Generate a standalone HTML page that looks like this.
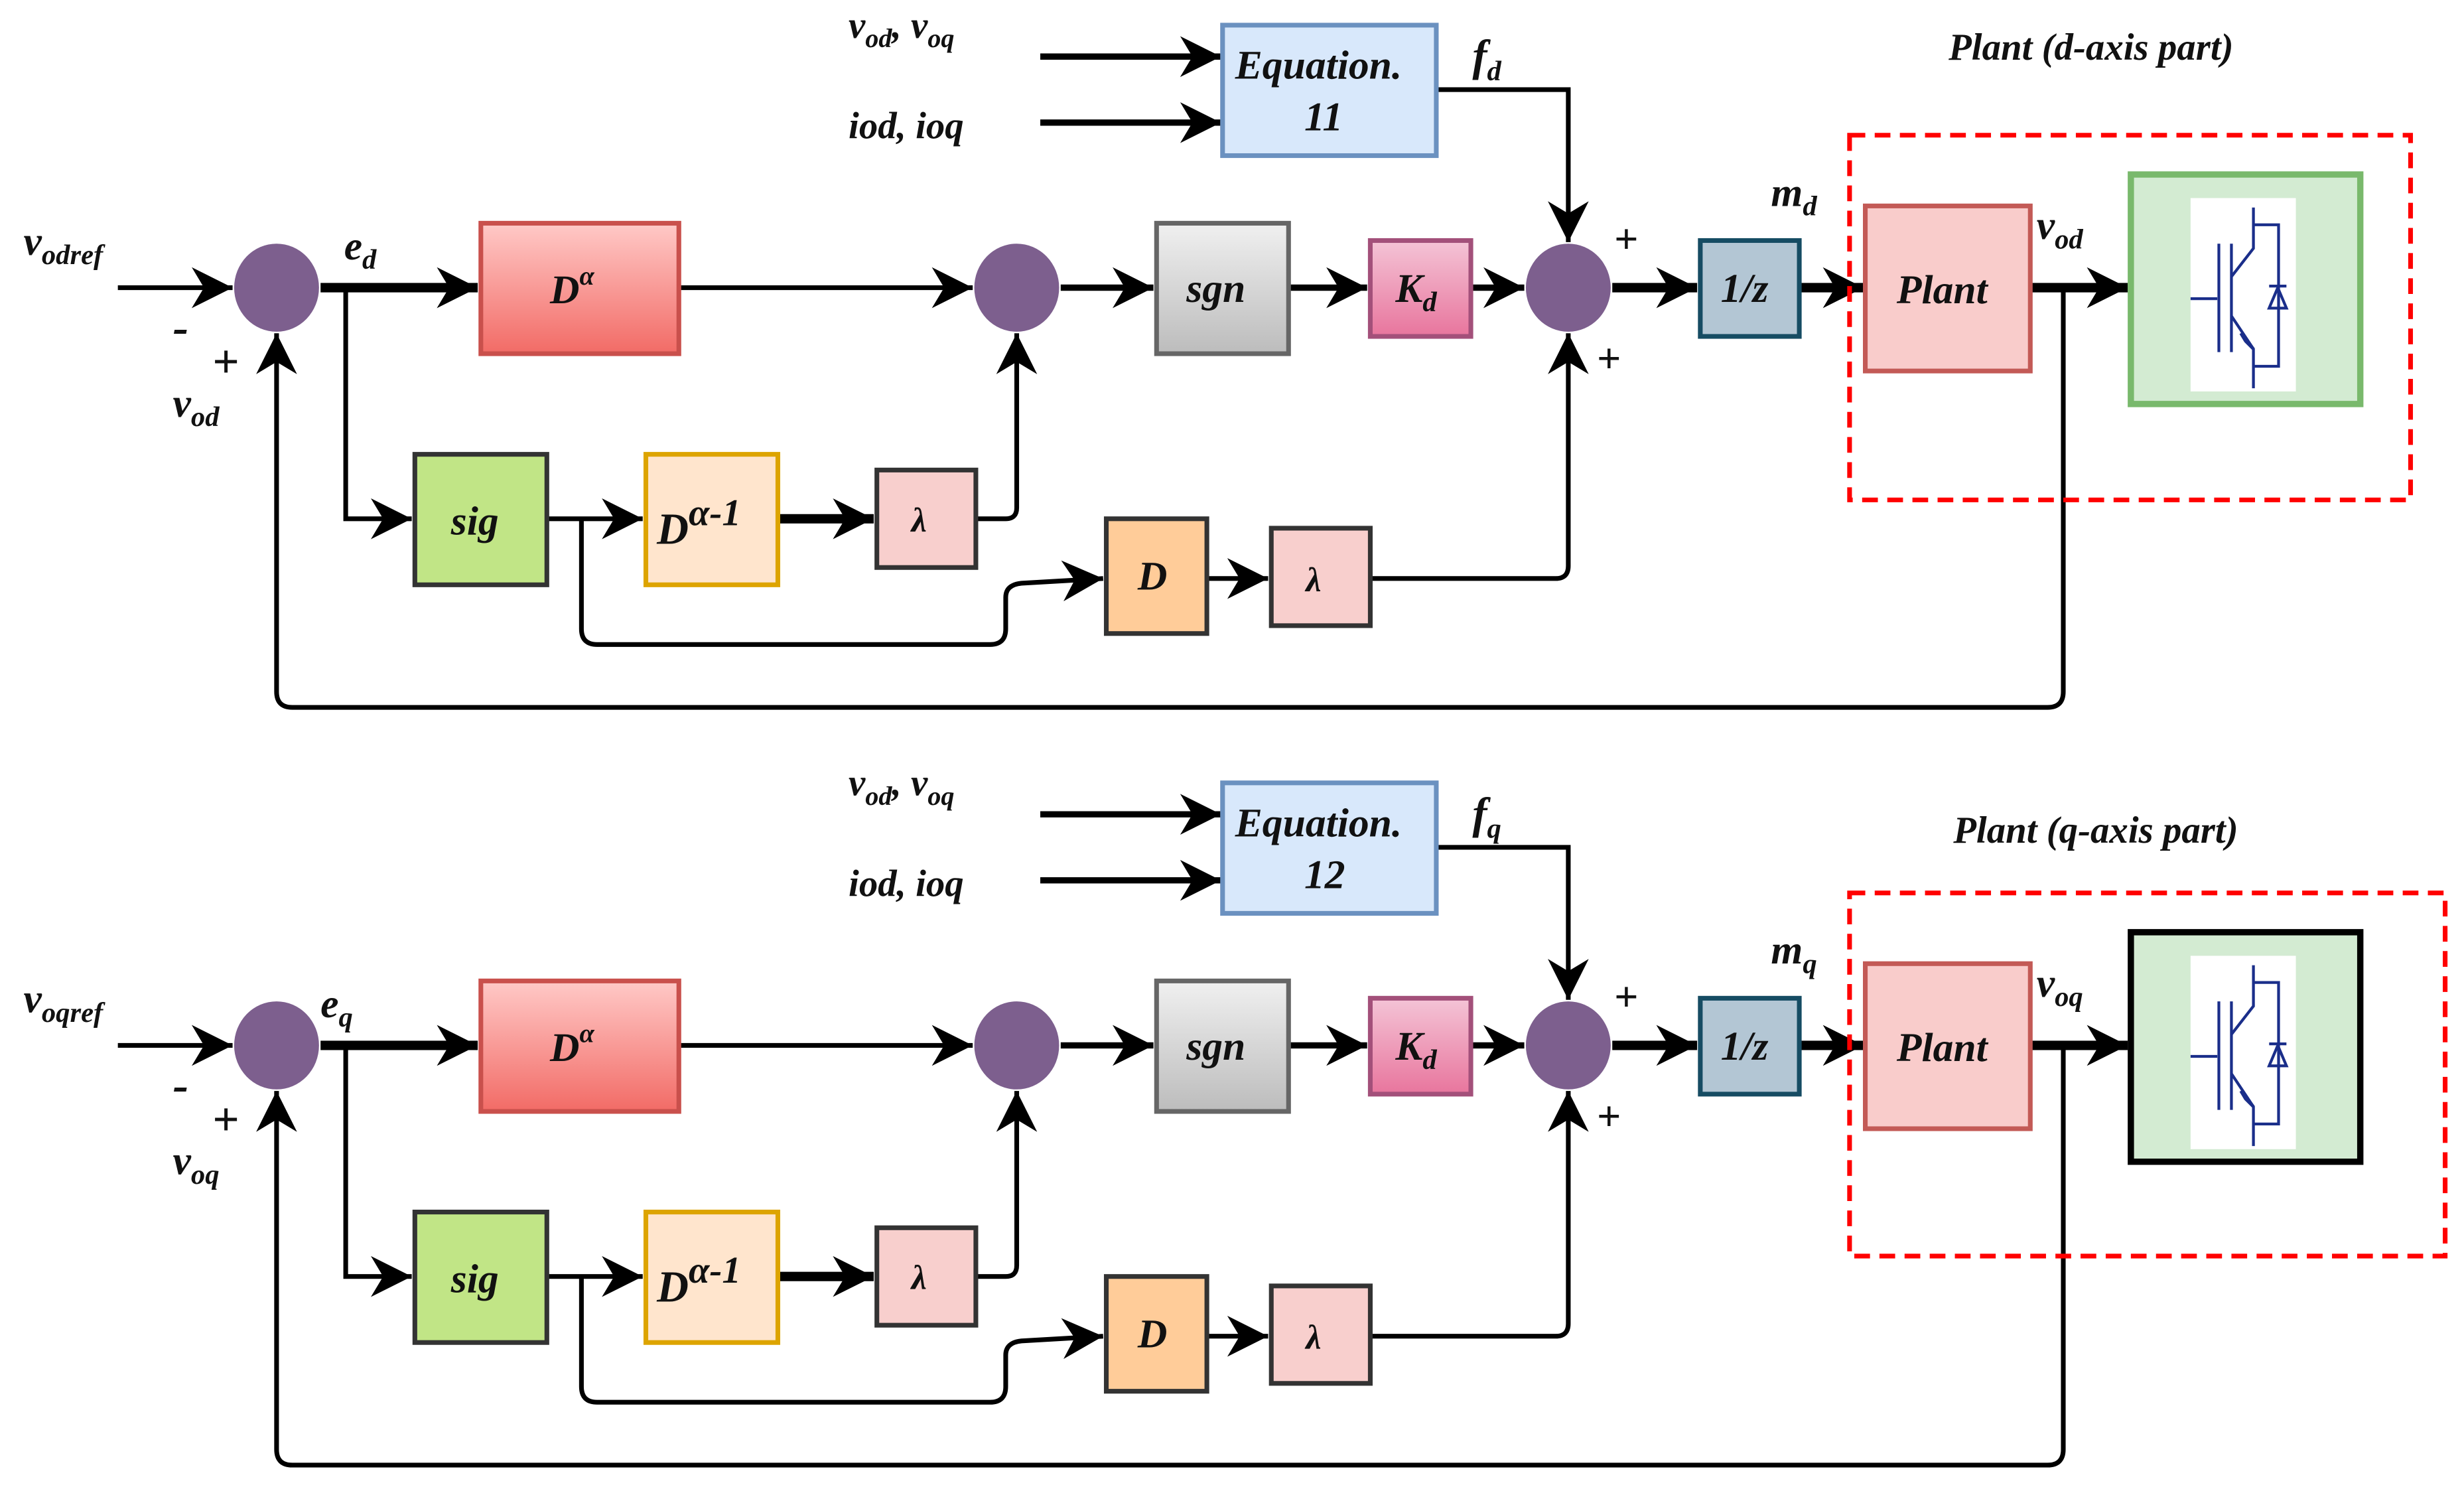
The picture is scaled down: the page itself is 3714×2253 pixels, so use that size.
<!DOCTYPE html>
<html><head><meta charset="utf-8"><style>
html,body{margin:0;padding:0;background:#fff;}
svg{display:block;}
text{font-family:"Liberation Serif","DejaVu Serif",serif;font-style:italic;font-weight:bold;fill:#111;}
</style></head><body>
<svg width="3714" height="2253" viewBox="0 0 1568 951" xmlns="http://www.w3.org/2000/svg" preserveAspectRatio="none" font-family="Liberation Serif, DejaVu Serif, serif">
<defs>
<marker id="a1" viewBox="0 0 10 10" refX="10" refY="5" markerWidth="26" markerHeight="26" markerUnits="userSpaceOnUse" orient="auto">
<path d="M0,0 L10,5 L0,10 L3,5 Z" fill="#000"/></marker>
<linearGradient id="gr" x1="0" y1="0" x2="0" y2="1"><stop offset="0" stop-color="#ffc9c7"/><stop offset="1" stop-color="#f26b66"/></linearGradient>
<linearGradient id="gg" x1="0" y1="0" x2="0" y2="1"><stop offset="0" stop-color="#f0f0f0"/><stop offset="1" stop-color="#bcbcbc"/></linearGradient>
<linearGradient id="gk" x1="0" y1="0" x2="0" y2="1"><stop offset="0" stop-color="#f4c4d6"/><stop offset="1" stop-color="#e8759d"/></linearGradient>
<g id="blk">
<line x1="75" y1="183" x2="148" y2="183" stroke="#000" stroke-width="3" marker-end="url(#a1)"/>
<line x1="204" y1="183" x2="304" y2="183" stroke="#000" stroke-width="6" marker-end="url(#a1)"/>
<line x1="432" y1="183" x2="619" y2="183" stroke="#000" stroke-width="3" marker-end="url(#a1)"/>
<line x1="675" y1="183" x2="734" y2="183" stroke="#000" stroke-width="4" marker-end="url(#a1)"/>
<line x1="820" y1="183" x2="870" y2="183" stroke="#000" stroke-width="4" marker-end="url(#a1)"/>
<line x1="936" y1="183" x2="970" y2="183" stroke="#000" stroke-width="4" marker-end="url(#a1)"/>
<line x1="1026" y1="183" x2="1080" y2="183" stroke="#000" stroke-width="6" marker-end="url(#a1)"/>
<line x1="1145" y1="183" x2="1186" y2="183" stroke="#000" stroke-width="6" marker-end="url(#a1)"/>
<line x1="1292" y1="183" x2="1354" y2="183" stroke="#000" stroke-width="6" marker-end="url(#a1)"/>
<line x1="662" y1="36" x2="777" y2="36" stroke="#000" stroke-width="4" marker-end="url(#a1)"/>
<line x1="662" y1="78" x2="777" y2="78" stroke="#000" stroke-width="4" marker-end="url(#a1)"/>
<polyline points="914,57 998,57 998,154" fill="none" stroke="#000" stroke-width="3" marker-end="url(#a1)"/>
<polyline points="220,183 220,330 262,330" fill="none" stroke="#000" stroke-width="3" marker-end="url(#a1)"/>
<line x1="348" y1="330" x2="409" y2="330" stroke="#000" stroke-width="3" marker-end="url(#a1)"/>
<line x1="495" y1="330" x2="556" y2="330" stroke="#000" stroke-width="6" marker-end="url(#a1)"/>
<path d="M621,330 H640 Q647,330 647,323 V212" fill="none" stroke="#000" stroke-width="3" marker-end="url(#a1)"/>
<path d="M370,330 V400 Q370,410 380,410 H630 Q640,410 640,400 V380 Q640,372 650,371 L702,368" fill="none" stroke="#000" stroke-width="3" marker-end="url(#a1)"/>
<line x1="768" y1="368" x2="807" y2="368" stroke="#000" stroke-width="3" marker-end="url(#a1)"/>
<path d="M872,368 H990 Q998,368 998,360 V212" fill="none" stroke="#000" stroke-width="3" marker-end="url(#a1)"/>
<path d="M1313,183 V440 Q1313,450 1303,450 H186 Q176,450 176,440 V212" fill="none" stroke="#000" stroke-width="3" marker-end="url(#a1)"/>
<ellipse cx="176" cy="183" rx="27" ry="28" fill="#7d5f8e"/>
<ellipse cx="647" cy="183" rx="27" ry="28" fill="#7d5f8e"/>
<ellipse cx="998" cy="183" rx="27" ry="28" fill="#7d5f8e"/>
<rect x="306" y="142" width="126" height="83" fill="url(#gr)" stroke="#c9504c" stroke-width="3"/>
<text x="350" y="193" font-size="26">D<tspan font-size="17" dy="-12">α</tspan></text>
<rect x="736" y="142" width="84" height="83" fill="url(#gg)" stroke="#666" stroke-width="3"/>
<text x="755" y="192" font-size="26">sgn</text>
<rect x="872" y="153" width="64" height="61" fill="url(#gk)" stroke="#a3507a" stroke-width="3"/>
<text x="888" y="192" font-size="26">K<tspan font-size="18" dy="6">d</tspan></text>
<rect x="1082" y="153" width="63" height="61" fill="#b3c6d4" stroke="#164c63" stroke-width="3"/>
<text x="1095" y="192" font-size="26">1/z</text>
<rect x="1187" y="131" width="105" height="105" fill="#f9cccb" stroke="#c35a56" stroke-width="3"/>
<text x="1207" y="193" font-size="26">Plant</text>
<rect x="264" y="289" width="84" height="83" fill="#c1e586" stroke="#333" stroke-width="3"/>
<text x="287" y="340" font-size="26">sig</text>
<rect x="411" y="289" width="84" height="83" fill="#ffe5cd" stroke="#dda400" stroke-width="3"/>
<text x="418" y="346" font-size="28">D<tspan font-size="24" dy="-12">α-1</tspan></text>
<rect x="558" y="299" width="63" height="62" fill="#f8cfcd" stroke="#333" stroke-width="3"/>
<text x="580" y="338" font-size="22">λ</text>
<rect x="704" y="330" width="64" height="73" fill="#ffcc99" stroke="#333" stroke-width="3"/>
<text x="724" y="375" font-size="26">D</text>
<rect x="809" y="336" width="63" height="62" fill="#f8cfcd" stroke="#333" stroke-width="3"/>
<text x="831" y="376" font-size="22">λ</text>
<rect x="1356" y="111" width="146" height="146" fill="#d3ebd2"/>
<rect x="1394" y="126" width="67" height="123" fill="#fff"/>
<g stroke="#1a2e8a" stroke-width="1.8" fill="none">
<line x1="1394" y1="190" x2="1411" y2="190"/>
<line x1="1412" y1="155" x2="1412" y2="224"/>
<line x1="1420" y1="155" x2="1420" y2="224"/>
<polyline points="1420,176 1434,158 1434,132"/>
<polyline points="1434,143 1450,143 1450,233 1434,233"/>
<polyline points="1420,201 1434,222 1434,247"/>
<polygon points="1444,196 1455,196 1449.5,183"/>
<line x1="1444" y1="182" x2="1455" y2="182"/>
</g>
<polygon points="1426,212 1434,222 1429,217" fill="#1a2e8a" stroke="#1a2e8a" stroke-width="2"/>
<text x="110" y="218" font-size="30" font-style="normal" font-weight="normal">-</text>
<text x="135" y="240" font-size="30" font-style="normal" font-weight="normal">+</text>
<text x="1027" y="161" font-size="27" font-style="normal" font-weight="normal">+</text>
<text x="1016" y="237" font-size="27" font-style="normal" font-weight="normal">+</text>
</g>
</defs>

<use href="#blk"/>
<rect x="1356" y="111" width="146" height="146" fill="none" stroke="#79b96c" stroke-width="4"/>
<rect x="1177" y="86" width="357" height="232" fill="none" stroke="#f00" stroke-width="3" stroke-dasharray="10,6"/>
<rect x="778" y="16" width="136" height="83" fill="#d8e8fb" stroke="#6b91c0" stroke-width="3"/>
<text x="786" y="50" font-size="26">Equation.</text>
<text x="830" y="83" font-size="26">11</text>
<text x="15" y="162" font-size="26">v<tspan font-size="18" dy="6">odref</tspan></text>
<text x="219" y="165" font-size="26">e<tspan font-size="18" dy="6">d</tspan></text>
<text x="110" y="265" font-size="26">v<tspan font-size="18" dy="6">od</tspan></text>
<text x="540" y="24" font-size="24">v<tspan font-size="17" dy="6">od</tspan><tspan dy="-6">, v</tspan><tspan font-size="17" dy="6">oq</tspan></text>
<text x="540" y="88" font-size="24">iod, ioq</text>
<text x="937" y="45" font-size="28">f<tspan font-size="18" dy="6">d</tspan></text>
<text x="1127" y="131" font-size="26">m<tspan font-size="18" dy="6">d</tspan></text>
<text x="1296" y="152" font-size="26">v<tspan font-size="18" dy="6">od</tspan></text>
<text x="1240" y="38" font-size="24">Plant (d-axis part)</text>

<g transform="translate(0,482)"><use href="#blk"/>
<rect x="1356" y="111" width="146" height="146" fill="none" stroke="#000" stroke-width="4"/>
<rect x="1177" y="86" width="379" height="231" fill="none" stroke="#f00" stroke-width="3" stroke-dasharray="10,6"/>
<rect x="778" y="16" width="136" height="83" fill="#d8e8fb" stroke="#6b91c0" stroke-width="3"/>
<text x="786" y="50" font-size="26">Equation.</text>
<text x="830" y="83" font-size="26">12</text>
<text x="15" y="162" font-size="26">v<tspan font-size="18" dy="6">oqref</tspan></text>
<text x="204" y="165" font-size="26">e<tspan font-size="18" dy="6">q</tspan></text>
<text x="110" y="265" font-size="26">v<tspan font-size="18" dy="6">oq</tspan></text>
<text x="540" y="24" font-size="24">v<tspan font-size="17" dy="6">od</tspan><tspan dy="-6">, v</tspan><tspan font-size="17" dy="6">oq</tspan></text>
<text x="540" y="88" font-size="24">iod, ioq</text>
<text x="937" y="45" font-size="28">f<tspan font-size="18" dy="6">q</tspan></text>
<text x="1127" y="131" font-size="26">m<tspan font-size="18" dy="6">q</tspan></text>
<text x="1296" y="152" font-size="26">v<tspan font-size="18" dy="6">oq</tspan></text>
<text x="1243" y="54" font-size="24">Plant (q-axis part)</text>
</g>
</svg>
</body></html>
